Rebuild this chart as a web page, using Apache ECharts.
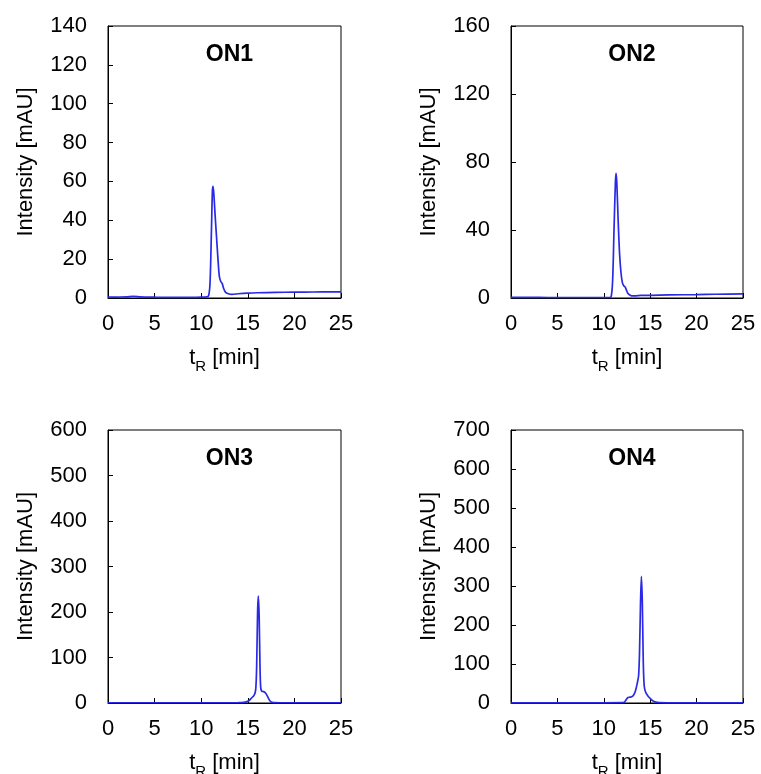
<!DOCTYPE html>
<html>
<head>
<meta charset="utf-8">
<script src="https://cdn.jsdelivr.net/npm/echarts@6/dist/echarts.min.js"></script>
<style>html,body{margin:0;padding:0;background:#fff}#c{width:761px;height:774px}</style>
</head>
<body>
<div id="c"></div>
<script>
// ---- data ----
var panelTitles = ['ON1', 'ON2', 'ON3', 'ON4'];
var xTicks = [0, 5, 10, 15, 20, 25];
var yMax = [140, 160, 600, 700];
var yStep = [20, 40, 100, 100];

var on1T = [0, 1, 2, 2.7, 3.5, 5, 6, 7, 8, 9, 10, 10.6, 10.8, 10.95, 11.1, 11.2, 11.27, 11.35, 11.5, 11.65, 11.8, 11.95, 12.1, 12.25, 12.4, 12.6, 12.9, 13.3, 14, 15, 16, 18, 20, 22, 24, 25];
var on1Y = [0.4, 0.5, 0.6, 0.9, 0.6, 0.4, 0.3, 0.3, 0.3, 0.3, 0.4, 0.6, 1.2, 8, 35, 55, 57.5, 54, 42, 31, 20, 11, 8.5, 7.5, 5, 3, 2.2, 1.9, 2.2, 2.5, 2.7, 2.9, 3.0, 3.1, 3.2, 3.2];

var on2T = [0, 2, 4, 6, 8, 10, 10.6, 10.8, 10.95, 11.1, 11.25, 11.32, 11.4, 11.55, 11.7, 11.85, 12.0, 12.15, 12.3, 12.45, 12.6, 12.8, 13.0, 13.3, 14, 15, 17, 20, 22, 25];
var on2Y = [0.4, 0.4, 0.3, 0.3, 0.3, 0.3, 0.3, 1, 10, 40, 68, 73.3, 68, 45, 26, 15, 9, 7.2, 6.5, 4.5, 2.7, 1.8, 1.3, 1.3, 1.5, 1.6, 1.8, 2.0, 2.2, 2.4];

var on3T = [0, 5, 10, 14, 14.7, 15.1, 15.4, 15.7, 15.85, 15.95, 16.05, 16.13, 16.22, 16.3, 16.38, 16.5, 16.7, 16.9, 17.1, 17.3, 17.5, 17.8, 18.5, 20, 25];
var on3Y = [0.5, 0.5, 0.5, 0.8, 2, 5, 11, 18, 30, 80, 200, 235, 190, 90, 35, 26, 25, 22, 15, 7, 2, 0.8, 0.5, 0.5, 0.5];

var on4T = [0, 5, 10, 12, 12.2, 12.4, 12.6, 12.8, 13.0, 13.2, 13.4, 13.6, 13.75, 13.85, 13.95, 14.05, 14.15, 14.25, 14.35, 14.5, 14.7, 14.9, 15.2, 15.5, 16, 18, 25];
var on4Y = [0.5, 0.5, 0.5, 0.8, 2, 8, 14, 15, 16, 20, 30, 50, 70, 130, 250, 325, 260, 110, 45, 28, 20, 14, 7, 3, 1, 0.5, 0.5];

var seriesT = [on1T, on2T, on3T, on4T];
var seriesY = [on1Y, on2Y, on3Y, on4Y];

// ---- layout ----
var font = 'Liberation Sans, Arial, sans-serif';
var grids = [
  {left: 108, top: 26, width: 233, height: 272},
  {left: 511, top: 26, width: 232, height: 272},
  {left: 108, top: 430, width: 233, height: 273},
  {left: 511, top: 430, width: 232, height: 273}
];
var titleTops = [38, 38, 442, 442];
var lineColor = '#2a2ae6';

function pairs(t, y) { return t.map(function (v, i) { return [v, y[i]]; }); }

var option = {
  backgroundColor: '#fff',
  animation: false,
  title: grids.map(function (g, i) {
    return {
      text: panelTitles[i], left: g.left + g.width / 2, top: titleTops[i], textAlign: 'center',
      textStyle: {fontFamily: font, fontSize: 23, fontWeight: 'bold', color: '#000'}
    };
  }),
  grid: grids.map(function (g) {
    return Object.assign({show: true, borderColor: '#000', borderWidth: 1, backgroundColor: 'transparent', containLabel: false, outerBoundsMode: 'none'}, g);
  }),
  xAxis: grids.map(function (g, i) {
    return {
      type: 'value', gridIndex: i, min: xTicks[0], max: xTicks[xTicks.length - 1], interval: 5,
      name: '{t|t}{s|R}{t| [min]}', nameLocation: 'middle', nameGap: 49,
      nameTextStyle: {fontFamily: font, fontSize: 22, color: '#000',
        rich: {t: {fontFamily: font, fontSize: 22, color: '#000', lineHeight: 27, verticalAlign: 'top'},
               s: {fontFamily: font, fontSize: 15, color: '#000', lineHeight: 15, verticalAlign: 'bottom'}}},
      axisLine: {show: true, onZero: false, lineStyle: {color: '#000', width: 1}},
      axisTick: {show: true, inside: true, length: 5, lineStyle: {color: '#000'}},
      axisLabel: {fontFamily: font, fontSize: 22, color: '#000', margin: 15},
      splitLine: {show: false}
    };
  }),
  yAxis: grids.map(function (g, i) {
    return {
      type: 'value', gridIndex: i, min: 0, max: yMax[i], interval: yStep[i],
      name: 'Intensity [mAU]', nameLocation: 'middle', nameRotate: 90, nameGap: 71,
      nameTextStyle: {fontFamily: font, fontSize: 22, color: '#000'},
      axisLine: {show: true, lineStyle: {color: '#000', width: 1}},
      axisTick: {show: true, inside: true, length: 5, lineStyle: {color: '#000'}},
      axisLabel: {fontFamily: font, fontSize: 22, color: '#000', margin: 21},
      splitLine: {show: false}
    };
  }),
  series: seriesT.map(function (t, i) {
    return {
      type: 'line', xAxisIndex: i, yAxisIndex: i, data: pairs(t, seriesY[i]),
      showSymbol: false, smooth: 0.3, lineStyle: {color: lineColor, width: 1.7}, z: 1
    };
  })
};

var chart = echarts.init(document.getElementById('c'), null, {renderer: 'canvas'});
chart.setOption(option);
</script>
</body>
</html>
